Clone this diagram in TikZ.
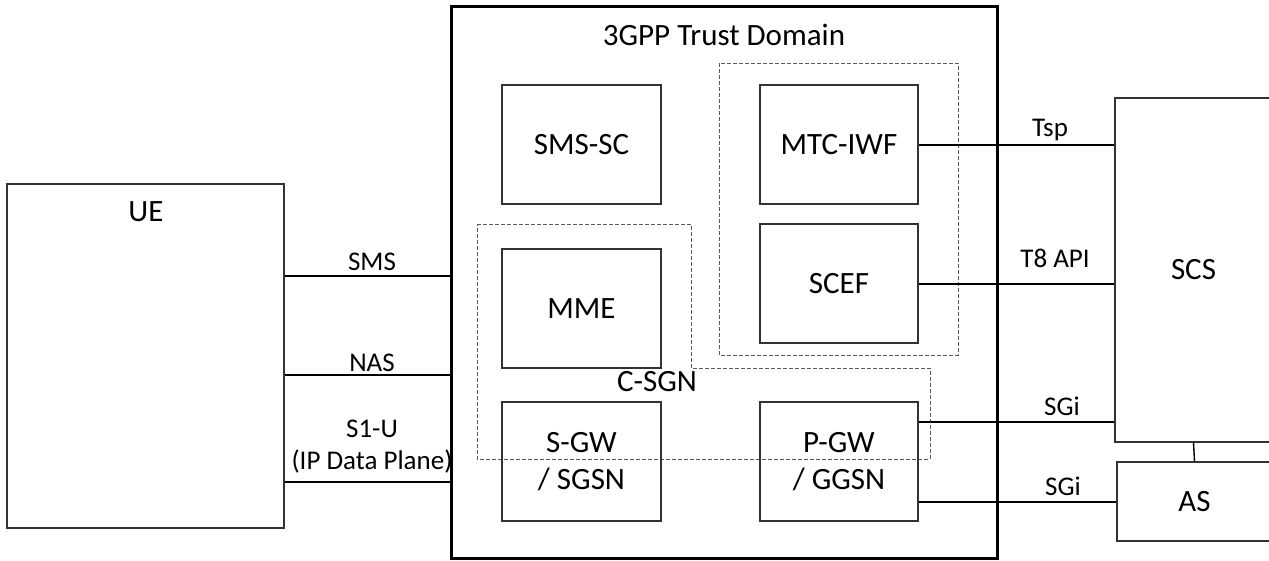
\documentclass[tikz,border=0pt]{standalone}
\usepackage{fontspec}
\setmainfont{Carlito}
\begin{document}
\begin{tikzpicture}[x=1pt,y=-1pt,
  box/.style={draw=black!80, line width=1.1pt, inner sep=0pt, align=center, font=\fontsize{31}{37}\selectfont},
  conn/.style={draw=black, line width=2pt},
  dbox/.style={draw=black!65, line width=0.9pt, dash pattern=on 4pt off 2pt},
  lbl/.style={inner sep=0pt, font=\fontsize{27}{32}\selectfont},
  big/.style={inner sep=0pt, font=\fontsize{31}{37}\selectfont}]
\useasboundingbox (0,0) rectangle (1269,560);
% 3GPP domain
\node[draw=black, line width=3pt, minimum width=546pt, minimum height=552pt, inner sep=0pt] (dom) at (724,282) {};
\node[big] (title) at (724,35) {3GPP Trust Domain};
% dashed groups
\draw[dbox] (719,63) rectangle (958,355);
\draw[dbox] (477,224) -- (691,224) -- (691,368) -- (930,368) -- (930,459) -- (477,459) -- cycle;
\node[big] (csgnlbl) at (657,382) {C-SGN};
% inner boxes
\node[box, minimum width=159pt, minimum height=119pt] (smssc) at (581.5,144.5) {SMS-SC};
\node[box, minimum width=158pt, minimum height=119pt] (mtc) at (839,144.5) {MTC-IWF};
\node[box, minimum width=158pt, minimum height=119pt] (scef) at (839,283.5) {SCEF};
\node[box, minimum width=159pt, minimum height=119pt] (mme) at (581.5,308.5) {MME};
\node[box, minimum width=159pt, minimum height=119pt] (sgw) at (581.5,461.5) {S-GW\\/ SGSN};
\node[box, minimum width=158pt, minimum height=119pt] (pgw) at (839,461.5) {P-GW\\/ GGSN};
% UE
\node[box, minimum width=277pt, minimum height=344pt] (ue) at (145.5,356) {};
\node[big] (uelbl) at (146,212) {UE};
% SCS and AS
\node[box, minimum width=157pt, minimum height=344pt] (scs) at (1193.5,270) {SCS};
\node[box, minimum width=155pt, minimum height=79pt] (as) at (1194.5,501.5) {AS};
% connectors UE - domain
\draw[conn] (ue.east |- 0,276) -- (dom.west |- 0,276);
\draw[conn] (ue.east |- 0,375) -- (dom.west |- 0,375);
\draw[conn] (ue.east |- 0,482) -- (dom.west |- 0,482);
\node[lbl] (smslbl) at (372,262) {SMS};
\node[lbl] (naslbl) at (372,363) {NAS};
\node[lbl] (s1ulbl) at (372,429) {S1-U};
\node[lbl] (iplbl) at (372,461) {(IP Data Plane)};
% connectors to SCS / AS
\draw[conn] (mtc.east) -- (scs.west |- mtc.east);
\draw[conn] (scef.east) -- (scs.west |- scef.east);
\draw[conn] (pgw.east |- 0,422) -- (scs.west |- 0,422);
\draw[conn] (pgw.east |- as.west) -- (as.west);
\draw[line width=1.4pt] (scs.south) -- (as.north);
\node[lbl] (tsplbl) at (1050,130) {Tsp};
\node[lbl] (t8lbl) at (1055,258) {T8 API};
\node[lbl] (sgi1lbl) at (1062,406) {SGi};
\node[lbl] (sgi2lbl) at (1063,486) {SGi};
\end{tikzpicture}
\end{document}
